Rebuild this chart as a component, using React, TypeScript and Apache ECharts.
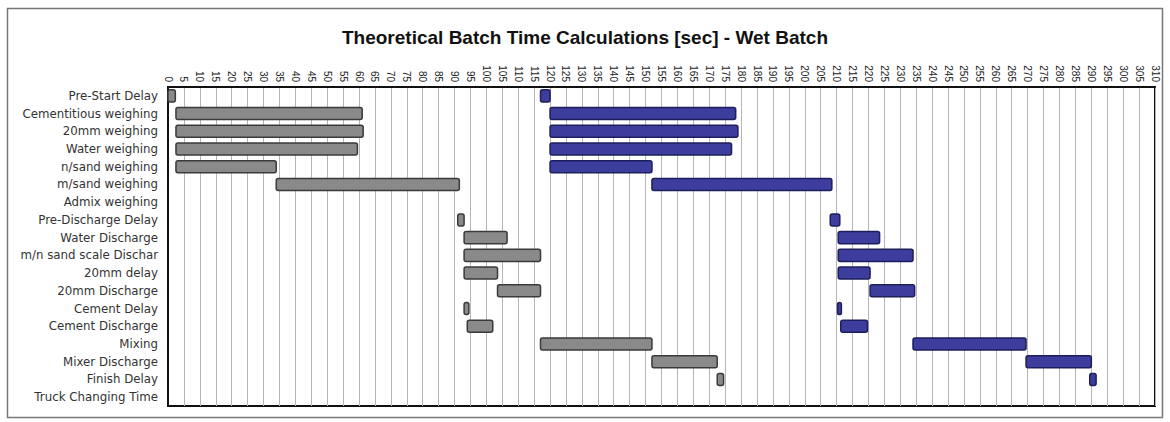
import React, { useEffect, useRef } from "react";
import * as echarts from "echarts";

const categories = [
  "Pre-Start Delay",
  "Cementitious weighing",
  "20mm weighing",
  "Water weighing",
  "n/sand weighing",
  "m/sand weighing",
  "Admix weighing",
  "Pre-Discharge Delay",
  "Water Discharge",
  "m/n sand scale Dischar",
  "20mm delay",
  "20mm Discharge",
  "Cement Delay",
  "Cement Discharge",
  "Mixing",
  "Mixer Discharge",
  "Finish Delay",
  "Truck Changing Time",
];

const batch1Start = [0, 2.5, 2.5, 2.5, 2.5, 34, null, 91, 93, 93, 93, 103.5, 93, 94, 117, 152, 172.5, null];
const batch1End = [2.3, 61, 61.3, 59.5, 34, 91.5, null, 93, 106.5, 117, 103.5, 117, 94.5, 102, 152, 172.5, 174.5, null];
const batch2Start = [117, 120, 120, 120, 120, 152, null, 208, 210.5, 210.5, 210.5, 220.5, 210.3, 211.3, 234, 269.5, 289.5, null];
const batch2End = [120, 178.3, 179, 177, 152, 208.5, null, 211, 223.5, 234, 220.5, 234.5, 211.5, 219.7, 269.5, 290, 291.5, null];

const axisMin = 0;
const axisMax = 310;
const axisStep = 5;

function buildData(starts: (number | null)[], ends: (number | null)[]) {
  const out: any[] = [];
  starts.forEach((s, i) => {
    const e = ends[i];
    if (s !== null && e !== null) out.push([i, s, e]);
  });
  return out;
}

function makeRender(fill: string, stroke: string) {
  return (params: any, api: any) => {
    const cat = api.value(0);
    const start = api.coord([api.value(1), cat]);
    const end = api.coord([api.value(2), cat]);
    const h = api.size([0, 1])[1] * 0.68;
    return {
      type: "rect",
      shape: { x: start[0], y: start[1] - h / 2, width: end[0] - start[0], height: h, r: 2 },
      style: { fill, stroke, lineWidth: 1.5 },
    };
  };
}

export default function App() {
  const ref = useRef<HTMLDivElement>(null);
  useEffect(() => {
    if (!ref.current) return;
    const chart = echarts.init(ref.current, null, { renderer: "svg" });
    chart.setOption({
      animation: false,
      backgroundColor: "#ffffff",
      title: {
        text: "Theoretical Batch Time Calculations [sec] - Wet Batch",
        left: "center",
        top: 23,
        textStyle: { fontFamily: "Liberation Sans", fontSize: 19, fontWeight: "bold", color: "#111" },
      },
      graphic: [
        {
          type: "rect",
          shape: { x: 7.5, y: 8.5, width: 1155, height: 409 },
          style: { fill: "none", stroke: "#777", lineWidth: 1.5 },
          silent: true,
          z: -1,
        },
      ],
      grid: {
        left: 168,
        right: 15,
        top: 87,
        bottom: 16,
        show: true,
        borderColor: "#111",
        borderWidth: 2,
        backgroundColor: "#fff",
      },
      xAxis: {
        type: "value",
        position: "top",
        min: axisMin,
        max: axisMax,
        interval: axisStep,
        axisLine: { show: true, lineStyle: { color: "#111", width: 2 } },
        axisTick: { show: false },
        axisLabel: {
          rotate: 90,
          fontSize: 10,
          fontFamily: "Liberation Sans",
          color: "#222",
          margin: 5,
          showMinLabel: true,
          showMaxLabel: true,
        },
        splitLine: { show: true, lineStyle: { color: "#b5b5b5", width: 1 } },
      },
      yAxis: {
        type: "category",
        data: categories,
        inverse: true,
        axisLine: { show: true, lineStyle: { color: "#111", width: 2 } },
        axisTick: { show: false },
        axisLabel: { fontSize: 11.8, fontFamily: "DejaVu Sans", color: "#333", margin: 10 },
        splitLine: { show: false },
      },
      series: [
        {
          name: "Batch 1",
          type: "custom",
          renderItem: makeRender("#8a8a8a", "#3a3a3a"),
          encode: { x: [1, 2], y: 0 },
          data: buildData(batch1Start, batch1End),
        },
        {
          name: "Batch 2",
          type: "custom",
          renderItem: makeRender("#3d3d9e", "#1e1e5c"),
          encode: { x: [1, 2], y: 0 },
          data: buildData(batch2Start, batch2End),
        },
      ],
    });
    return () => chart.dispose();
  }, []);
  return <div ref={ref} style={{ position: "fixed", left: 0, top: 0, width: 1170, height: 422 }} />;
}
